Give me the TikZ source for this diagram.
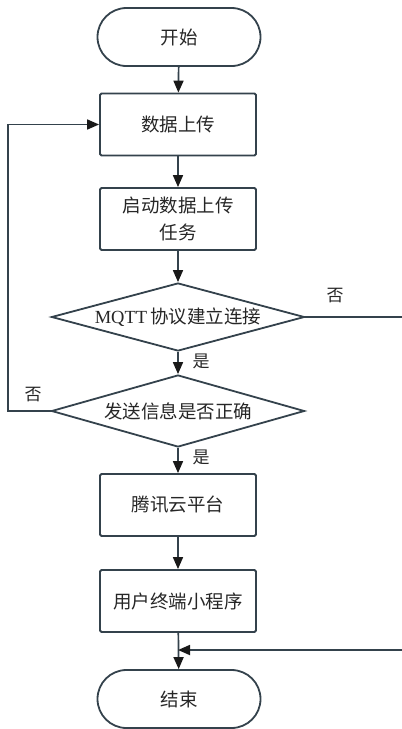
\documentclass[tikz,border=0pt]{standalone}
\usepackage{fontspec}
\setmainfont{Liberation Serif}
\newfontfamily\cjk{Noto Sans CJK SC}
\usetikzlibrary{shapes.geometric,arrows.meta}
\definecolor{edge}{HTML}{34424C}
\tikzset{
  base/.style={draw=edge, line width=1.8pt, font=\fontsize{18.5}{27}\selectfont\cjk, text=black!85, inner sep=0pt, align=center},
  term/.style={base, rounded corners=29pt, minimum width=163pt, minimum height=58pt},
  proc/.style={base, rounded corners=1.5pt, minimum width=156pt, minimum height=62pt},
  decision/.style={base, diamond, aspect=3.7, minimum width=253pt, minimum height=68pt},
  flow/.style={draw=edge, line width=1.7pt, -{Triangle[length=12pt,width=10pt,fill=black!90,color=black!90]}},
  plain/.style={draw=edge, line width=1.5pt},
  lbl/.style={font=\fontsize{17}{19}\selectfont\cjk, text=black!85, inner sep=0pt}
}
\begin{document}
\begin{tikzpicture}[x=1pt,y=-1pt]
\useasboundingbox (0,0) rectangle (402,729);
\node[term] (start) at (179,37) {开始};
\node[proc] (up) at (178,124.5) {数据上传};
\node[proc] (task) at (178,219) {启动数据上传\\任务};
\node[decision] (mqtt) at (178,317) {{\rmfamily MQTT}\,协议建立连接};
\node[decision, minimum height=72pt] (check) at (178,411) {发送信息是否正确};
\node[proc] (cloud) at (178,505) {腾讯云平台};
\node[proc] (app) at (178,601) {用户终端小程序};
\node[term] (stop) at (179,699) {结束};

\draw[flow] (start) -- (up);
\draw[flow] (up) -- (task);
\draw[flow] (task) -- (mqtt);
\draw[flow] (mqtt) -- (check);
\draw[flow] (check) -- (cloud);
\draw[flow] (cloud) -- (app);
\draw[flow] (app) -- (stop);

% retry loop back to the upload step
\coordinate (lx) at (8,411);
\draw[flow] (check.west) -- (lx) |- (up.west);

% connection failure branch leaving to the right
\coordinate (rx) at (402,317);
\draw[plain] (mqtt.east) -- (rx);

% branch returning to the end node
\coordinate (ry) at (402,650);
\draw[flow] (ry) -- (app.south |- ry);

\node[lbl] (n1) at (335,296) {否};
\node[lbl] (y1) at (201,361) {是};
\node[lbl] (n2) at (33,395) {否};
\node[lbl] (y2) at (201,457) {是};
\end{tikzpicture}
\end{document}
